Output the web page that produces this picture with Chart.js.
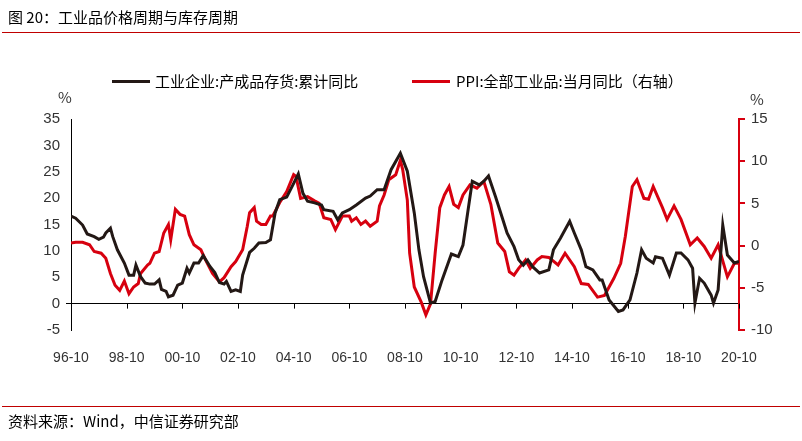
<!DOCTYPE html>
<html><head><meta charset="utf-8">
<script src="https://cdn.jsdelivr.net/npm/chart.js@4"></script>
<style>
body{margin:0;width:802px;height:441px;position:relative;background:#fff;font-family:"Noto Sans CJK SC","Noto Sans",sans-serif;overflow:hidden}
#c{position:absolute;left:0;top:0}
.t{position:absolute;white-space:nowrap;color:#000}
.rl{position:absolute;left:2px;width:798px;height:1px;background:#c00000}
.lg{position:absolute;width:38px;height:3px;top:80px}
</style></head><body>
<canvas id="c" width="802" height="441"></canvas>
<div class="t" style="left:8px;top:6px;font-size:15px">图 20：工业品价格周期与库存周期</div>
<div class="rl" style="top:32px"></div>
<div class="lg" style="left:112px;background:#231815"></div>
<div class="t" style="left:155px;top:70px;font-size:15px">工业企业:产成品存货:累计同比</div>
<div class="lg" style="left:412px;background:#d7000f"></div>
<div class="t" style="left:456px;top:70px;font-size:15px">PPI:全部工业品:当月同比（右轴）</div>
<div class="t" style="left:58px;top:86px;font-size:15px;color:#333">%</div>
<div class="t" style="left:750px;top:88px;font-size:15px;color:#333">%</div>
<div class="rl" style="top:406px"></div>
<div class="t" style="left:8px;top:410px;font-size:15px">资料来源：Wind，中信证券研究部</div>
<script>
// months since 1996-10
const invMonths=[0,2,5,7,10,12,14,15,17,18,20,23,25,27,28,30,32,34,36,38,39,41,42,44,46,48,50,51,53,55,57,60,62,64,66,67,69,71,73,74,77,79,81,84,86,88,90,93,96,98,100,102,105,108,109,113,115,117,120,123,127,129,132,135,138,142,145,148,150,152,155,157,160,164,167,169,173,176,178,180,183,186,188,191,193,195,197,199,202,206,208,211,215,217,220,222,225,228,229,232,236,238,241,244,246,248,251,252,255,258,261,263,266,268,269,271,273,276,277,279,281,283,286,288,289];
const invValues=[16.6,16.2,14.9,13.2,12.7,12.2,12.6,13.4,14.3,12.7,10.2,7.7,5.4,5.4,7.3,5.1,3.9,3.7,3.7,4.5,2.7,2.3,1.3,1.6,3.5,3.9,6.7,5.8,7.7,7.7,9.1,7.0,5.9,4.0,3.7,4.2,2.3,2.6,2.3,5.4,9.7,10.5,11.5,11.6,12.1,17.2,19.7,20.2,22.8,24.6,20.9,19.4,19.1,18.7,17.8,17.5,15.9,17.2,17.8,18.7,20.0,20.4,21.6,21.6,25.4,28.5,25.1,17.2,10.2,5.1,0.1,0.4,4.5,9.4,8.9,11.1,23.2,22.5,23.2,24.2,20.3,16.2,13.4,10.8,8.3,7.3,8.3,7.0,5.8,6.4,10.2,12.4,15.6,13.4,10.2,7.0,6.4,4.5,4.5,0.7,-1.5,-1.2,0.7,5.8,10.2,8.6,7.7,8.9,8.6,5.4,9.6,9.6,8.3,6.7,0.1,4.8,3.9,1.6,0.1,2.6,14.9,9.2,7.7,8.0,7.3];
const ppiMonths=[0,2,5,8,10,13,15,17,19,21,23,25,27,29,30,33,34,36,38,40,42,43,45,47,49,51,53,56,58,61,64,66,69,71,74,76,77,79,80,82,84,86,87,90,93,96,97,99,102,105,107,109,112,114,117,120,121,123,125,127,129,132,133,135,137,140,142,143,145,146,148,151,153,155,157,159,161,163,165,167,169,172,175,178,181,184,187,189,191,193,196,198,201,203,206,210,213,217,220,223,227,230,234,237,239,242,244,247,249,251,255,257,260,263,267,270,273,276,279,283,286,288,289];
const ppiValues=[0.3,0.4,0.4,0.1,-0.7,-0.9,-1.5,-3.3,-4.7,-5.3,-4.2,-5.7,-4.9,-4.5,-3.3,-2.3,-2.1,-0.9,-0.7,1.5,2.5,0.7,4.3,3.7,3.5,1.3,0.1,-0.5,-1.7,-3.3,-4.3,-3.8,-2.5,-1.9,-0.5,2.3,3.9,4.5,2.9,2.5,2.5,3.5,3.5,5.1,6.4,8.4,8.2,5.6,5.8,5.3,5.0,3.3,3.1,1.9,3.5,3.5,2.9,3.3,2.5,2.9,2.3,2.9,4.7,6.0,7.8,8.4,10.1,9.0,5.4,-0.9,-4.9,-6.7,-8.2,-6.9,-0.9,4.5,6.0,7.0,4.9,4.5,6.0,7.2,6.8,7.6,4.9,0.3,-0.7,-3.1,-3.5,-2.7,-1.7,-2.7,-1.7,-1.3,-1.4,-2.3,-0.9,-2.5,-4.5,-4.6,-6.1,-5.9,-3.9,-2.1,1.1,7.0,7.8,5.6,5.5,7.0,4.5,3.1,4.7,3.1,0.1,0.9,-0.1,-1.5,0.1,-3.7,-2.1,-2.1,-1.5];
const xTickLabels=['96-10','98-10','00-10','02-10','04-10','06-10','08-10','10-10','12-10','14-10','16-10','18-10','20-10'];

const zeroTicks={id:'zt',afterDraw(ch){const c=ch.ctx,x=ch.scales.x,y0=ch.scales.y.getPixelForValue(0);c.save();c.strokeStyle='#000';c.lineWidth=1;
for(let m=0;m<=288;m+=24){const px=Math.round(x.getPixelForValue(m))+0.5;c.beginPath();c.moveTo(px,y0);c.lineTo(px,y0+5);c.stroke();}c.restore();}};

new Chart(document.getElementById('c'),{type:'line',
data:{datasets:[
{data:invMonths.map((m,i)=>({x:m,y:invValues[i]})),borderColor:'#231815',borderWidth:3,pointRadius:0,yAxisID:'y',tension:0},
{data:ppiMonths.map((m,i)=>({x:m,y:ppiValues[i]})),borderColor:'#d7000f',borderWidth:3,pointRadius:0,yAxisID:'y1',tension:0}]},
options:{responsive:false,animation:false,events:[],layout:{padding:{top:119,left:0,right:0,bottom:0}},
plugins:{legend:{display:false},tooltip:{enabled:false}},
scales:{
x:{type:'linear',min:0,max:288,afterFit:s=>{s.height=111},border:{display:false},grid:{display:false},
ticks:{stepSize:24,autoSkip:false,maxRotation:0,color:'#333',font:{size:14,family:'Liberation Sans'},padding:12,callback:v=>xTickLabels[v/24]}},
y:{position:'left',min:-5,max:35,afterFit:s=>{s.width=71},border:{color:'#000'},
grid:{drawOnChartArea:true,drawTicks:true,tickLength:5,color:c=>c.tick&&c.tick.value===0?'#000':'rgba(0,0,0,0)'},
ticks:{stepSize:5,color:'#333',font:{size:15,family:'Liberation Sans'},padding:6}},
y1:{position:'right',min:-10,max:15,afterFit:s=>{s.width=63},border:{color:'#d7000f',width:2},
grid:{drawOnChartArea:false,tickLength:6,color:'#d7000f',lineWidth:2},
ticks:{stepSize:5,color:'#333',font:{size:15,family:'Liberation Sans'},padding:6}}}},
plugins:[zeroTicks]});
</script></body></html>
